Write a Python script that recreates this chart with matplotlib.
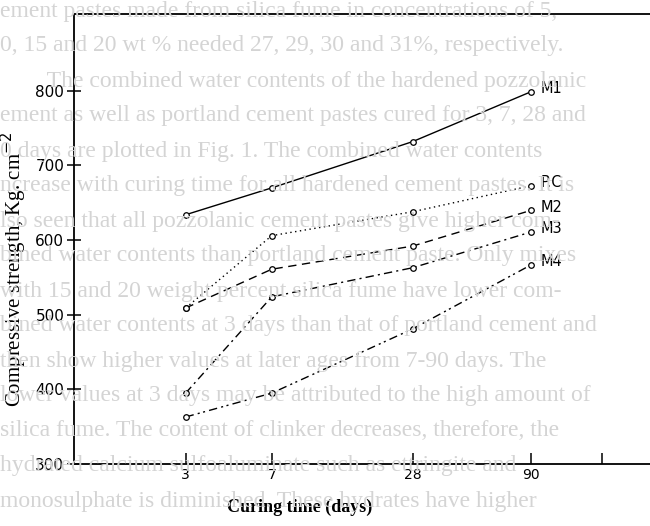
import matplotlib.pyplot as plt
import matplotlib.ticker as mticker

# curing time (days) and compressive strength (Kg cm^-2)
days = [3, 7, 28, 90]
m1 = [634, 670, 732, 799]
pc = [509, 606, 638, 673]
m2 = [509, 561, 592, 640]
m3 = [395, 524, 563, 611]
m4 = [363, 395, 481, 567]
names = ["M1", "P.C", "M2", "M3", "M4"]

# faint text showing through from the printed page behind the figure
page_lines = [
    "ement pastes made from silica fume in concentrations of 5,",
    "0, 15 and 20 wt % needed 27, 29, 30 and 31%, respectively.",
    "        The combined water contents of the hardened pozzolanic",
    "ement as well as portland cement pastes cured for 3, 7, 28 and",
    "0 days are plotted in Fig. 1. The combined water contents",
    "ncrease with curing time for all hardened cement pastes. It is",
    "lso seen that all pozzolanic cement pastes give higher com-",
    "bined water contents than portland cement paste. Only mixes",
    "with 15 and 20 weight percent silica fume have lower com-",
    "bined water contents at 3 days than that of portland cement and",
    "then show higher values at later ages from 7-90 days. The",
    "lower values at 3 days may be attributed to the high amount of",
    "silica fume. The content of clinker decreases, therefore, the",
    "hydrated calcium sulfoaluminate such as ettringite and",
    "monosulphate is diminished. These hydrates have higher",
]

fig = plt.figure(figsize=(6.5, 5.26), dpi=100)
for i, line in enumerate(page_lines):
    fig.text(0.0, 1 - (11 + 35 * i) / 526, line, family="Liberation Serif",
             fontsize=17, color="#d4d4d4", va="center", ha="left", zorder=0)

ax = fig.add_axes([74 / 650, 62 / 526, 626 / 650, 450 / 526])
ax.patch.set_alpha(0)

styles = ["-", (0, (1, 2.5)), (0, (6, 4)), (0, (6, 3, 1.5, 3)),
          (0, (6, 3, 1.5, 2.5, 1.5, 3))]
for vals, name, ls in zip([m1, pc, m2, m3, m4], names, styles):
    ax.plot(days, vals, color="black", linestyle=ls, linewidth=1.0,
            marker="o", markersize=4, markerfacecolor="white",
            markeredgecolor="black", markeredgewidth=0.9)
    ax.text(days[-1] * 1.1, vals[-1] + 4, name, family="DejaVu Sans",
            fontsize=10.5, va="center", ha="left")

ax.set_xscale("log")
ax.set_xlim(1, 10 ** (626 / 234))
ax.set_ylim(300, 903)
ax.set_xticks(days + [180])
ax.set_xticklabels(["3", "7", "28", "90", ""])
ax.xaxis.set_minor_locator(mticker.NullLocator())
ax.set_yticks([300, 400, 500, 600, 700, 800])

ax.spines["right"].set_visible(False)
for s in ["left", "bottom", "top"]:
    ax.spines[s].set_linewidth(1.3)

ax.tick_params(axis="x", direction="in", length=8, width=1.1,
               labelsize=10, pad=3)
ax.tick_params(axis="y", direction="inout", length=10, width=1.1,
               labelsize=11, pad=2)

ax.set_ylabel("Compressive strength, Kg. cm$^{-2}$", family="Liberation Serif",
              fontsize=15)
ax.yaxis.set_label_coords(-0.072, 0.433)
ax.set_xlabel("Curing time (days)", family="Liberation Serif",
              fontsize=13, fontweight="bold")
ax.xaxis.set_label_coords(0.361, -0.078)

fig.savefig("out.png", dpi=100)
